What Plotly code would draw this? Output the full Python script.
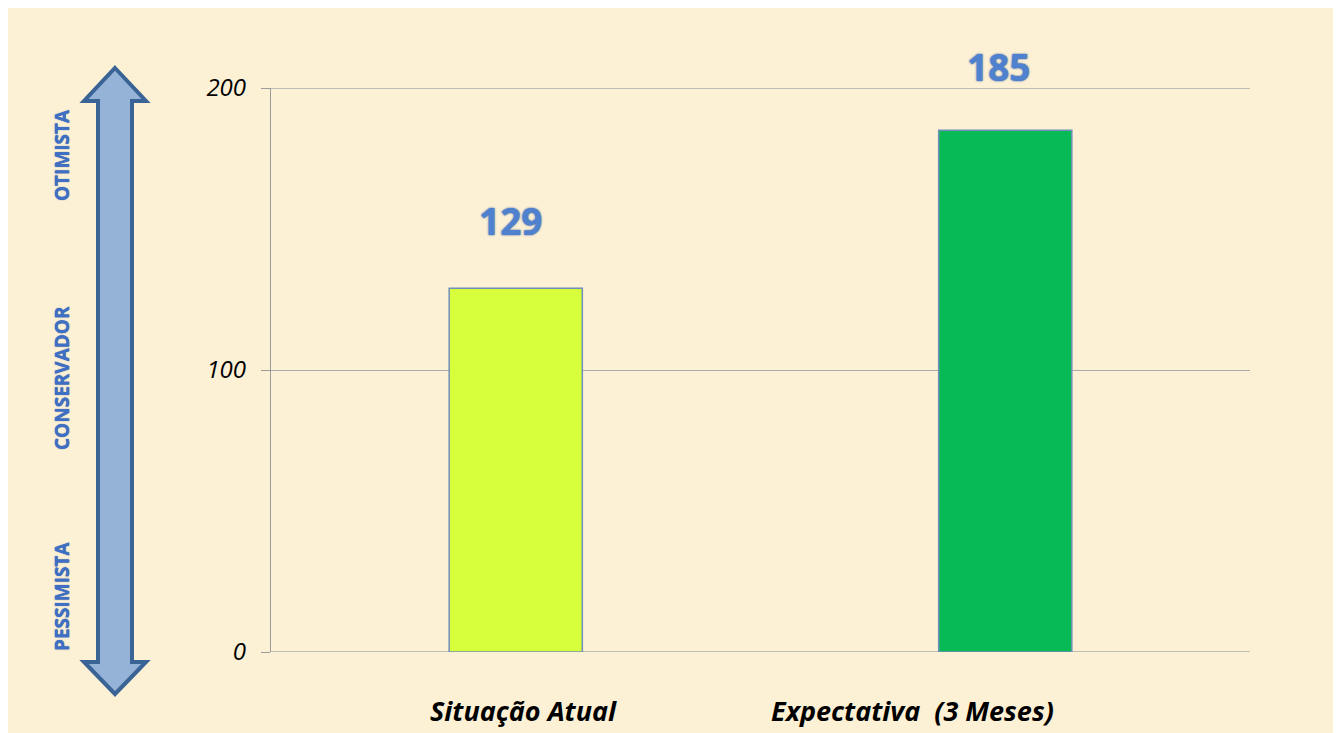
import plotly.graph_objects as go

categories = ["Situação Atual", "Expectativa  (3 Meses)"]
values = [129, 185]
bar_colors = ["#D7FF3B", "#08BA56"]
y_ticks = [0, 100, 200]
scale_labels = ["OTIMISTA", "CONSERVADOR", "PESSIMISTA"]

OFF = 8  # page body margin
W, H = 1341 - OFF, 733 - OFF
L, R, T, B = 271 - OFF, 1250 - OFF, 88 - OFF, 652 - OFF
GRID = "#ABABAB"


def px(x):
    return (x - OFF - L) / (R - L)


def py(y):
    return (B - (y - OFF)) / (B - T)


fig = go.Figure()
fig.add_trace(go.Bar(
    x=categories, y=values,
    marker=dict(color=bar_colors, line=dict(color="#6F8FB8", width=1.5)),
    width=0.272, hoverinfo="skip",
))

# value labels
label_shift = [-5, -7]
label_gap = [40, 36]
for c, v, dx, g in zip(categories, values, label_shift, label_gap):
    fig.add_annotation(
        x=c, y=v, text=f"<b>{v}</b>", showarrow=False, yanchor="bottom",
        xshift=dx, yshift=g,
        font=dict(family="Open Sans", size=37, color="#4F81CF",
                  shadow="0px 0px 2px #1F4E99"),
    )

# category labels
cat_shift = [8, -93]
for c, dx in zip(categories, cat_shift):
    fig.add_annotation(
        x=c, y=0, yref="y", text=f"<b><i>{c}</i></b>", showarrow=False,
        yanchor="middle", xshift=dx, yshift=-58,
        font=dict(family="Open Sans", size=27, color="#000000"),
    )

shapes = []
# background
shapes.append(dict(type="rect", xref="paper", yref="paper", layer="below",
                   x0=px(OFF), x1=px(1336), y0=py(733), y1=py(8),
                   fillcolor="#FCF0D5", line=dict(width=0)))
# edge gridlines (plotly skips gridlines on the plot edges)
for v in (y_ticks[0], y_ticks[-1]):
    shapes.append(dict(type="line", xref="paper", yref="y", layer="below",
                       x0=0, x1=1, y0=v, y1=v,
                       line=dict(color=GRID, width=1.3)))
# double arrow
cx = 115
tip_t, base_t, base_b, tip_b = 68, 101, 662, 694
hw, sw = 31, 17
pts = [(cx, tip_t), (cx + hw, base_t), (cx + sw, base_t), (cx + sw, base_b),
       (cx + hw, base_b), (cx, tip_b), (cx - hw, base_b), (cx - sw, base_b),
       (cx - sw, base_t), (cx - hw, base_t)]
path = "M " + " L ".join(f"{px(x):.5f},{py(y):.5f}" for x, y in pts) + " Z"
shapes.append(dict(type="path", xref="paper", yref="paper", path=path,
                   fillcolor="#95B3D7", line=dict(color="#3A6496", width=4)))

fig.update_layout(shapes=shapes)

label_y = [155, 378, 597]
for t, yy in zip(scale_labels, label_y):
    fig.add_annotation(
        x=px(62), y=py(yy), xref="paper", yref="paper", text=f"<b>{t}</b>",
        showarrow=False, textangle=-90, xanchor="center", yanchor="middle",
        font=dict(family="Open Sans", size=19,
                  color="#3F6FC4", shadow="0px 0px 1px #1F4E99"),
    )

fig.update_layout(
    width=W, height=H,
    margin=dict(l=L, r=W - R, t=T, b=H - B, pad=0),
    paper_bgcolor="#FFFFFF",
    plot_bgcolor="rgba(0,0,0,0)",
    showlegend=False,
    bargap=0.728,
    xaxis=dict(showticklabels=False, showgrid=False, zeroline=False,
               showline=False, ticks=""),
    yaxis=dict(range=[0, 200], tickvals=y_ticks, showgrid=True,
               gridcolor=GRID, gridwidth=1.3, zeroline=False,
               showline=True, linecolor="#9C9C9C", linewidth=1.3,
               ticks="outside", ticklen=9, tickcolor="#9C9C9C",
               ticklabelstandoff=10,
               tickfont=dict(family="Open Sans", size=24, color="#000000",
                             style="italic")),
)

fig.write_html("out.html")
